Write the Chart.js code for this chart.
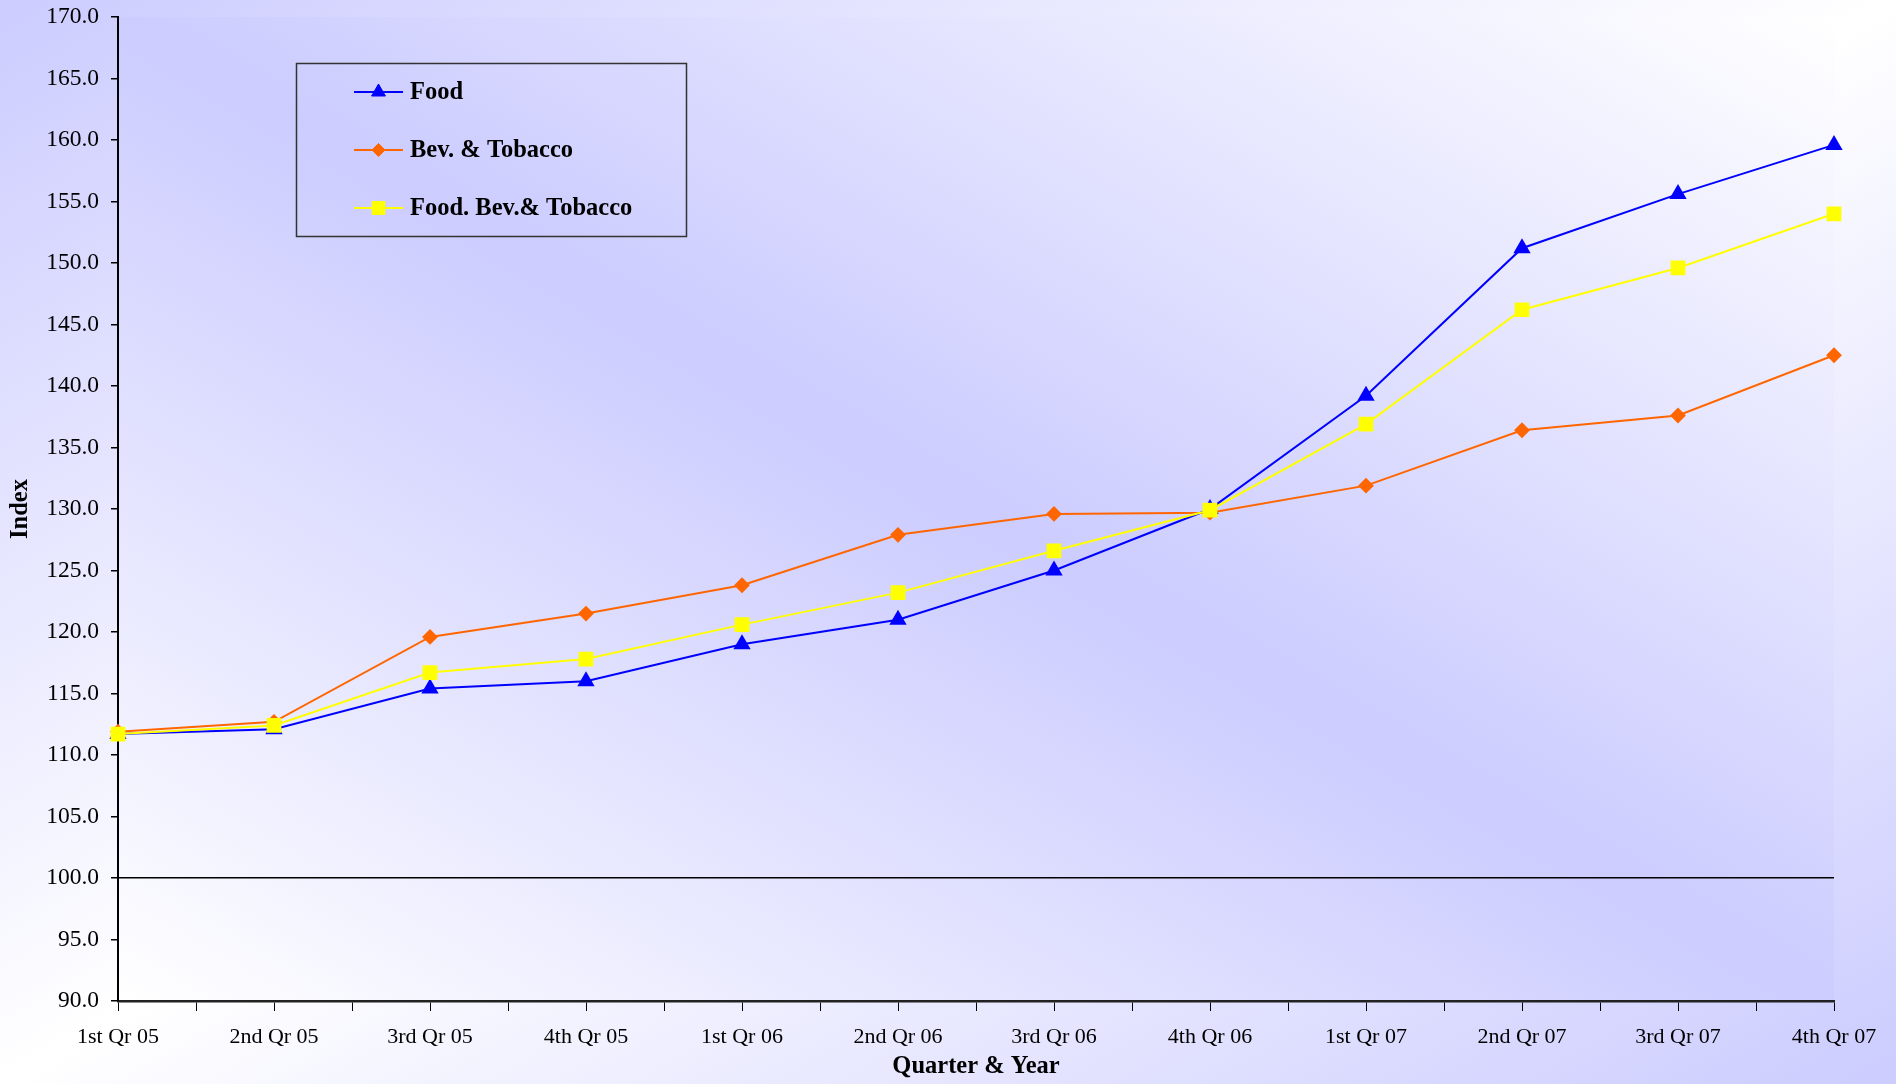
<!DOCTYPE html>
<html>
<head>
<meta charset="utf-8">
<script src="https://cdn.jsdelivr.net/npm/chart.js@4.4.1/dist/chart.umd.min.js"></script>
<style>
  html, body { margin: 0; padding: 0; }
  #wrap { width: 1896px; height: 1084px; position: relative; }
</style>
</head>
<body>
<div id="wrap"><canvas id="indexChart"></canvas></div>
<script>
// Quarterly index data
const quarters = ['1st Qr 05', '2nd Qr 05', '3rd Qr 05', '4th Qr 05', '1st Qr 06', '2nd Qr 06',
                  '3rd Qr 06', '4th Qr 06', '1st Qr 07', '2nd Qr 07', '3rd Qr 07', '4th Qr 07'];
const food =       [111.7, 112.1, 115.4, 116.0, 119.0, 121.0, 125.0, 130.0, 139.2, 151.2, 155.6, 159.6];
const bevTobacco = [111.9, 112.7, 119.6, 121.5, 123.8, 127.9, 129.6, 129.7, 131.9, 136.4, 137.6, 142.5];
const foodBevTob = [111.7, 112.4, 116.7, 117.8, 120.6, 123.2, 126.6, 129.9, 136.9, 146.2, 149.6, 154.0];
const seriesNames = ['Food', 'Bev. & Tobacco', 'Food. Bev.& Tobacco'];

const LAV = '#ccccff';
const SERIF = '"Liberation Serif", "Times New Roman", serif';
Chart.defaults.font.family = SERIF;
Chart.defaults.font.size = 22;
Chart.defaults.color = '#000';

function toPoints(arr) {
    return arr.map((v, i) => ({ x: i, y: v }));
}

// gradient whose colour bands run parallel to a diagonal of the box
function diagGradient(ctx, left, top, w, h, fromBL, stops) {
    const cx = left + w / 2, cy = top + h / 2;
    const d = Math.sqrt(w * w + h * h);
    const k = w * h / d;
    const nx = h / d;
    const ny = fromBL ? -w / d : w / d;
    const g = ctx.createLinearGradient(cx - nx * k, cy - ny * k, cx + nx * k, cy + ny * k);
    stops.forEach(s => g.addColorStop(s[0], s[1]));
    return g;
}

// Backgrounds: whole chart and plot area
const backgrounds = {
    id: 'backgrounds',
    beforeDraw(chart) {
        const ctx = chart.ctx;
        const W = chart.width, H = chart.height;
        ctx.save();
        ctx.fillStyle = diagGradient(ctx, 0, 0, W, H, false, [[0, LAV], [0.5, '#ffffff'], [1, LAV]]);
        ctx.fillRect(0, 0, W, H);
        const a = chart.chartArea;
        ctx.fillStyle = diagGradient(ctx, a.left, a.top, a.right - a.left, a.bottom - a.top, true,
            [[0, '#ffffff'], [0.5, LAV], [1, '#ffffff']]);
        ctx.fillRect(a.left, a.top, a.right - a.left, a.bottom - a.top);
        ctx.restore();
    }
};

// Legend box inside the plot
const boxLegend = {
    id: 'boxLegend',
    afterDraw(chart) {
        const ctx = chart.ctx;
        ctx.save();
        ctx.strokeStyle = '#333';
        ctx.lineWidth = 1.5;
        ctx.strokeRect(296.5, 63.5, 390, 173);
        const rows = [92, 150, 208];
        rows.forEach((y, di) => {
            const ds = chart.data.datasets[di];
            ctx.strokeStyle = ds.borderColor;
            ctx.lineWidth = 2;
            ctx.beginPath();
            ctx.moveTo(354, y);
            ctx.lineTo(403, y);
            ctx.stroke();
            ctx.fillStyle = ds.pointBackgroundColor;
            ctx.strokeStyle = ds.pointBorderColor;
            ctx.lineWidth = 1;
            Chart.helpers.drawPoint(ctx, {
                pointStyle: ds.pointStyle, radius: ds.pointRadius, rotation: 0, borderWidth: 1
            }, 378.5, y);
            ctx.fillStyle = '#000';
            ctx.font = 'bold 24.5px ' + SERIF;
            ctx.textBaseline = 'middle';
            ctx.textAlign = 'left';
            ctx.fillText(seriesNames[di], 410, y + 1);
        });
        ctx.restore();
    }
};

const config = {
    type: 'line',
    data: {
        datasets: [{
            label: seriesNames[0],
            data: toPoints(food),
            borderColor: '#0000ff',
            pointBackgroundColor: '#0000ff',
            pointBorderColor: '#0000ff',
            pointStyle: 'triangle',
            pointRadius: 8,
            borderWidth: 2,
            order: 2,
            clip: false
        }, {
            label: seriesNames[1],
            data: toPoints(bevTobacco),
            borderColor: '#ff6600',
            pointBackgroundColor: '#ff6600',
            pointBorderColor: '#ff6600',
            pointStyle: 'rectRot',
            pointRadius: 6.5,
            borderWidth: 2,
            order: 1,
            clip: false
        }, {
            label: seriesNames[2],
            data: toPoints(foodBevTob),
            borderColor: '#ffff00',
            pointBackgroundColor: '#ffff00',
            pointBorderColor: '#ffff00',
            pointStyle: 'rect',
            pointRadius: 9,
            borderWidth: 2,
            order: 0,
            clip: false
        }]
    },
    options: {
        responsive: true,
        maintainAspectRatio: false,
        animation: false,
        layout: { padding: { left: 0, right: 62, top: 17, bottom: 0 } },
        plugins: {
            legend: { display: false },
            tooltip: { enabled: false }
        },
        scales: {
            x: {
                type: 'linear',
                min: 0,
                max: quarters.length - 1,
                offset: false,
                afterFit(scale) { scale.height = 83; scale.paddingLeft = 0; scale.paddingRight = 0; },
                border: { color: '#222', width: 2.5 },
                grid: { drawOnChartArea: false, tickLength: 10, tickColor: '#000', tickWidth: 1 },
                ticks: {
                    stepSize: 0.5,
                    autoSkip: false,
                    maxRotation: 0,
                    padding: 13,
                    font: { size: 22 },
                    callback: v => Number.isInteger(v) ? quarters[v] : ''
                },
                title: { display: true, text: 'Quarter & Year', font: { size: 24.5, weight: 'bold' }, padding: { top: 0, bottom: 3 } }
            },
            y: {
                min: 90,
                max: 170,
                afterFit(scale) { scale.width = 118; scale.paddingTop = 0; scale.paddingBottom = 0; },
                border: { color: '#000', width: 2 },
                grid: {
                    color: c => (c.tick && c.tick.value === 100) ? '#000' : 'rgba(0,0,0,0)',
                    lineWidth: 1.5,
                    tickColor: '#000',
                    tickLength: 7
                },
                ticks: {
                    stepSize: 5,
                    padding: 12,
                    font: { size: 23.5 },
                    callback: v => Number(v).toFixed(1)
                },
                title: { display: true, text: 'Index', font: { size: 24.5, weight: 'bold' }, padding: { top: 6, bottom: 0 } }
            }
        }
    },
    plugins: [backgrounds, boxLegend]
};

const indexChart = new Chart(document.getElementById('indexChart'), config);
</script>
</body>
</html>
